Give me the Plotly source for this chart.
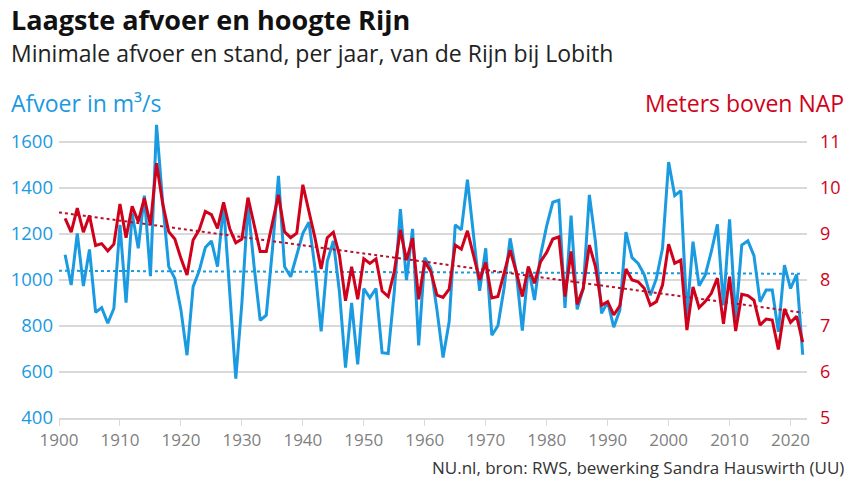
import plotly.graph_objects as go

years = list(range(1901, 2023))

afvoer = [
    1110, 978, 1203, 974, 1133, 859, 880, 812, 876, 1240,
    902, 1290, 1138, 1367, 1017, 1675, 1340, 1058, 1007, 870,
    673, 971, 1040, 1141, 1170, 1058, 1327, 960, 571, 900,
    1327, 1060, 825, 847, 1130, 1453, 1058, 1014, 1109, 1203,
    1251, 1050, 777, 1080, 1170, 950, 619, 900, 633, 963,
    923, 963, 684, 680, 950, 1308, 1000, 1222, 716, 1097,
    1050, 870, 663, 818, 1240, 1218, 1436, 1200, 953, 1138,
    760, 801, 963, 1181, 1036, 780, 1058, 913, 1109, 1235,
    1338, 1347, 879, 1280, 872, 963, 1370, 1167, 855, 905,
    795, 869, 1208, 1097, 1072, 1024, 934, 1007, 1138, 1513,
    1367, 1388, 845, 1167, 975, 1021, 1123, 1242, 890, 1264,
    832, 1152, 1170, 1106, 905, 956, 956, 775, 1065, 963,
    1024, 675,
]

stand = [
    9.34, 9.04, 9.56, 9.04, 9.40, 8.75, 8.79, 8.63, 8.78, 9.65,
    8.92, 9.60, 9.27, 9.78, 9.20, 10.54, 9.67, 9.05, 8.89, 8.47,
    8.11, 8.87, 9.09, 9.49, 9.42, 9.12, 9.69, 9.12, 8.81, 8.89,
    9.79, 9.23, 8.62, 8.62, 9.20, 9.85, 9.05, 8.92, 9.02, 10.07,
    9.49, 8.91, 8.24, 8.92, 9.04, 8.54, 7.55, 8.29, 7.58, 8.46,
    8.36, 8.46, 7.76, 7.64, 8.18, 9.09, 8.43, 8.91, 7.58, 8.40,
    8.18, 7.67, 7.62, 7.80, 8.76, 8.67, 9.07, 8.54, 8.00, 8.38,
    7.61, 7.64, 8.14, 8.65, 8.18, 7.64, 8.29, 7.93, 8.40, 8.60,
    8.89, 8.94, 7.64, 8.62, 7.47, 7.82, 8.76, 8.29, 7.45, 7.53,
    7.24, 7.44, 8.24, 8.00, 7.96, 7.82, 7.45, 7.53, 7.89, 8.78,
    8.36, 8.43, 6.91, 7.85, 7.40, 7.53, 7.71, 8.04, 7.05, 8.07,
    6.89, 7.69, 7.66, 7.56, 7.02, 7.15, 7.13, 6.49, 7.37, 7.08,
    7.21, 6.65,
]

trend_years = [1900, 2022]
trend_afvoer = [1040, 1027]
trend_stand = [9.47, 7.29]

x_ticks = [1900, 1910, 1920, 1930, 1940, 1950, 1960, 1970, 1980, 1990, 2000, 2010, 2020]
y1_ticks = [400, 600, 800, 1000, 1200, 1400, 1600]
y2_ticks = [5, 6, 7, 8, 9, 10, 11]

BLUE = "#1a9ae0"
RED = "#d0021b"
RED_DOT = "#b8102a"
GRID = "#d9d9d9"
FONT = "Open Sans"

W, H = 854, 480
L, R, T, B = 59, 47, 119, 62
PW = W - L - R
PH = H - T - B


def px(x):
    return (x - L) / PW


def py(y):
    return (H - B - y) / PH


fig = go.Figure()
fig.add_trace(go.Scatter(x=trend_years, y=trend_afvoer, mode="lines",
                         line=dict(color=BLUE, width=2, dash="dot"), yaxis="y", hoverinfo="skip"))
fig.add_trace(go.Scatter(x=trend_years, y=trend_stand, mode="lines",
                         line=dict(color=RED_DOT, width=2, dash="dot"), yaxis="y2", hoverinfo="skip"))
fig.add_trace(go.Scatter(x=years, y=afvoer, mode="lines",
                         line=dict(color=BLUE, width=3), yaxis="y"))
fig.add_trace(go.Scatter(x=years, y=stand, mode="lines",
                         line=dict(color=RED, width=3), yaxis="y2"))

fig.update_layout(
    width=W, height=H,
    margin=dict(l=L, r=R, t=T, b=B),
    paper_bgcolor="white", plot_bgcolor="white",
    showlegend=False,
    font=dict(family=FONT),
    xaxis=dict(range=[1900, 2022.7], tickvals=x_ticks, showgrid=False,
               showline=True, linecolor=GRID, linewidth=2,
               ticks="outside", ticklen=6, tickcolor=GRID, tickwidth=1,
               tickfont=dict(size=17, color="#808080"), zeroline=False),
    yaxis=dict(range=[400, 1700], tickvals=y1_ticks, showgrid=True,
               gridcolor=GRID, gridwidth=2, zeroline=False,
               tickfont=dict(size=18.5, color=BLUE), ticklabelstandoff=5),
    yaxis2=dict(range=[5, 11.5], tickvals=y2_ticks, overlaying="y", side="right",
                showgrid=False, zeroline=False,
                tickfont=dict(size=18, color=RED), ticklabelstandoff=12),
)

annos = [
    dict(text="<b>Laagste afvoer en hoogte Rijn</b>", x=px(9), y=py(19), xanchor="left",
         yanchor="middle", font=dict(size=27, color="#111111")),
    dict(text="Minimale afvoer en stand, per jaar, van de Rijn bij Lobith", x=px(9), y=py(53),
         xanchor="left", yanchor="middle", font=dict(size=23, color="#222222")),
    dict(text="Afvoer in m³/s", x=px(9), y=py(103), xanchor="left", yanchor="middle",
         font=dict(size=23, color=BLUE)),
    dict(text="Meters boven NAP", x=px(846), y=py(103), xanchor="right", yanchor="middle",
         font=dict(size=23, color=RED)),
    dict(text="NU.nl, bron: RWS, bewerking Sandra Hauswirth (UU)", x=px(846), y=py(467),
         xanchor="right", yanchor="middle", font=dict(size=17, color="#333333")),
]
for a in annos:
    fig.add_annotation(xref="paper", yref="paper", showarrow=False, **a)

fig.write_html("out.html", config={"displayModeBar": False},
               post_script="document.body.style.margin='0';document.body.style.padding='0';")
